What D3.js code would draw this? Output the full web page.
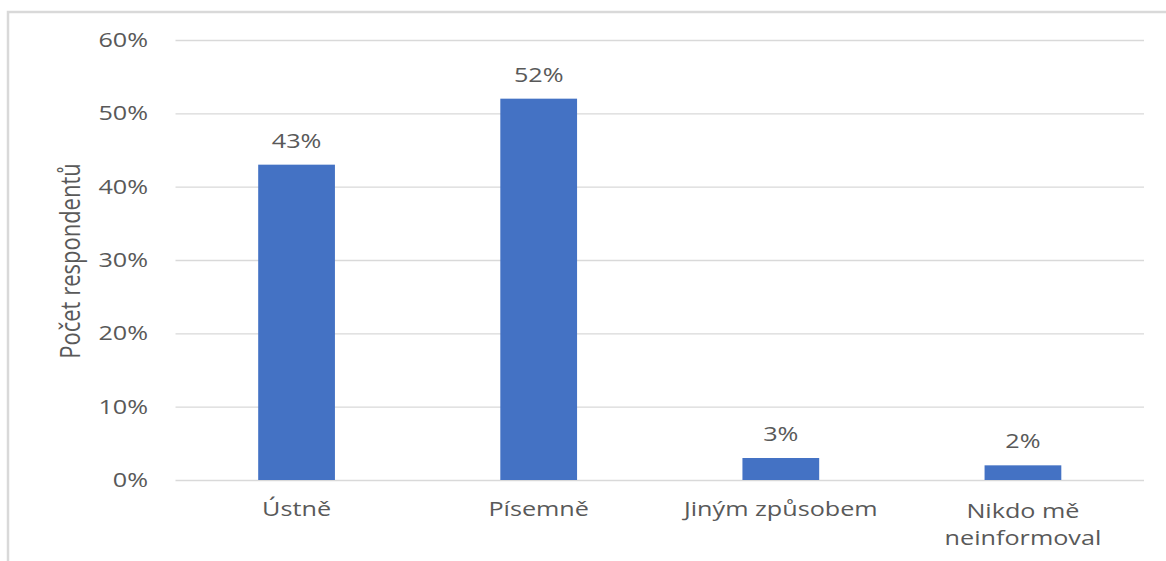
<!DOCTYPE html>
<html>
<head>
<meta charset="utf-8">
<script src="https://cdn.jsdelivr.net/npm/d3@7"></script>
<style>
  html, body { margin: 0; padding: 0; background: #fff; }
  svg { display: block; }
  text { font-family: "Open Sans", "Noto Sans", sans-serif; fill: #595959; }
</style>
</head>
<body>
<svg id="chart" width="1166" height="561"></svg>
<script>
// Survey: how respondents were informed
const categories = [["Ústně"], ["Písemně"], ["Jiným způsobem"], ["Nikdo mě", "neinformoval"]];
const shares = [43, 52, 3, 2];
const yTicks = [0, 10, 20, 30, 40, 50, 60];
const yTitle = "Počet respondentů";

const W = 1166, H = 561;
const plot = { left: 175.5, right: 1144, top: 40, bottom: 480 };
const stretch = 1.26;   // text is drawn slightly widened
const fontSize = 20;

const svg = d3.select("#chart");

svg.append("rect").attr("width", W).attr("height", H).attr("fill", "#fff");

// chart area frame (top and left edges)
svg.append("path")
  .attr("d", `M8,${H} V12 H${W}`)
  .attr("fill", "none")
  .attr("stroke", "#d9d9d9")
  .attr("stroke-width", 2.5);

const x = d3.scaleBand()
  .domain(d3.range(categories.length))
  .range([plot.left, plot.right])
  .paddingInner(0.683)
  .paddingOuter(0.3415);

const y = d3.scaleLinear().domain([0, 60]).range([plot.bottom, plot.top]);

// horizontal gridlines via the y axis
const yAxis = d3.axisLeft(y)
  .tickValues(yTicks)
  .tickSize(-(plot.right - plot.left))
  .tickFormat("");

const gAxis = svg.append("g")
  .attr("transform", `translate(${plot.left},0)`)
  .call(yAxis);
gAxis.select(".domain").remove();
gAxis.selectAll(".tick line").attr("stroke", "#d9d9d9").attr("stroke-width", 1.3);

// y tick labels
svg.append("g").selectAll("text")
  .data(yTicks)
  .join("text")
  .attr("transform", d => `translate(148,${y(d) + 7}) scale(${stretch},1)`)
  .attr("text-anchor", "end")
  .attr("font-size", fontSize)
  .text(d => d + "%");

// bars
svg.append("g").selectAll("rect")
  .data(shares)
  .join("rect")
  .attr("x", (d, i) => x(i))
  .attr("width", x.bandwidth())
  .attr("y", d => y(d))
  .attr("height", d => y(0) - y(d))
  .attr("fill", "#4472c4");

// value labels
svg.append("g").selectAll("text")
  .data(shares)
  .join("text")
  .attr("transform", (d, i) => `translate(${x(i) + x.bandwidth() / 2},${y(d) - 17}) scale(${stretch},1)`)
  .attr("text-anchor", "middle")
  .attr("font-size", fontSize)
  .text(d => d + "%");

// category labels (may wrap to two lines)
const cat = svg.append("g").selectAll("g")
  .data(categories)
  .join("g")
  .attr("transform", (d, i) => {
    const cx = x(i) + x.bandwidth() / 2;
    return `translate(${cx},${d.length > 1 ? 518 : 516}) scale(${stretch},1)`;
  });
cat.each(function (lines) {
  d3.select(this).selectAll("text")
    .data(lines)
    .join("text")
    .attr("y", (l, k) => k * 27)
    .attr("text-anchor", "middle")
    .attr("font-size", fontSize)
    .text(l => l);
});

// y axis title
svg.append("text")
  .attr("transform", `translate(80,261) scale(${stretch},1) rotate(-90)`)
  .attr("text-anchor", "middle")
  .attr("font-size", 22)
  .text(yTitle);
</script>
</body>
</html>
